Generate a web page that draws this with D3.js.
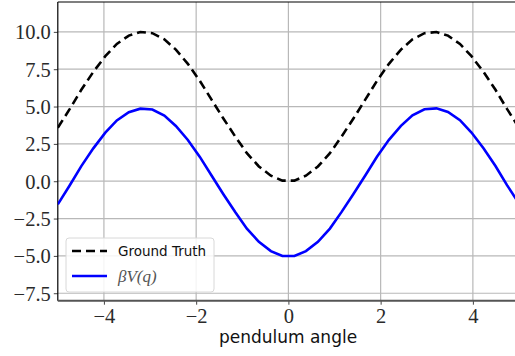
<!DOCTYPE html>
<html>
<head>
<meta charset="utf-8">
<script src="https://cdn.jsdelivr.net/npm/d3@7"></script>
<style>
  body { margin: 0; background: #fff; }
  .tick text { font-family: "Liberation Serif", serif; font-size: 20.5px; fill: #2a2a2a; }
</style>
</head>
<body>
<svg class="pendulum"></svg>
<script>
"use strict";

var width  = 515,
    height = 356;

// angles sampled along the x axis
var angles = [-5.00, -4.74, -4.49, -4.23, -3.97, -3.72, -3.46, -3.21, -2.95, -2.69,
              -2.44, -2.18, -1.92, -1.67, -1.41, -1.15, -0.90, -0.64, -0.38, -0.13,
               0.13,  0.38,  0.64,  0.90,  1.15,  1.41,  1.67,  1.92,  2.18,  2.44,
               2.69,  2.95,  3.21,  3.46,  3.72,  3.97,  4.23,  4.49,  4.74,  5.00];

var ground_truth = [3.58, 4.84, 6.12, 7.32, 8.37, 9.19, 9.75, 9.99, 9.91, 9.50,
                    8.81, 7.86, 6.72, 5.48, 4.20, 2.98, 1.88, 0.99, 0.37, 0.04,
                    0.04, 0.37, 0.99, 1.88, 2.98, 4.20, 5.48, 6.72, 7.86, 8.81,
                    9.50, 9.91, 9.99, 9.75, 9.19, 8.37, 7.32, 6.12, 4.84, 3.58];

var learned = [-1.55, -0.27, 1.01, 2.20, 3.25, 4.07, 4.62, 4.86, 4.80, 4.40,
                3.70, 2.76, 1.63, 0.40, -0.87, -2.08, -3.18, -4.06, -4.68, -5.01,
               -5.01, -4.68, -4.06, -3.17, -2.07, -0.86, 0.40, 1.64, 2.77, 3.71,
                4.41, 4.82, 4.88, 4.64, 4.09, 3.26, 2.21, 1.02, -0.26, -1.50];

var x_ticks = [-4, -2, 0, 2, 4],
    y_ticks = [-7.5, -5.0, -2.5, 0.0, 2.5, 5.0, 7.5, 10.0];

var series_names = ["Ground Truth", "βV(q)"];


// Setup
var chart = d3.select(".pendulum")
              .attr("width", width)
              .attr("height", height);

var x = d3.scaleLinear()
          .domain([-5, 5])
          .range([57.8, 519]);

var y = d3.scaleLinear()
          .domain([-8, 12])
          .range([300.7, 2]);

function fmt(v) {
    return d3.format(".1f")(v).replace("-", "\u2212");
}

// grid
chart.append("g")
     .selectAll("line")
     .data(x_ticks)
     .enter().append("line")
        .attr("x1", x).attr("x2", x)
        .attr("y1", y(12)).attr("y2", y(-8))
        .style("stroke", "#b8b8b8")
        .style("stroke-width", 1.2);

chart.append("g")
     .selectAll("line")
     .data(y_ticks)
     .enter().append("line")
        .attr("y1", y).attr("y2", y)
        .attr("x1", x(-5)).attr("x2", width)
        .style("stroke", "#b8b8b8")
        .style("stroke-width", 1.2);

// axes
var x_axis = chart.append("g")
                  .attr("transform", "translate(0, " + y(-8) + ")")
                  .call(d3.axisBottom(x)
                          .tickValues(x_ticks)
                          .tickSize(4)
                          .tickPadding(4)
                          .tickFormat(function(d) { return String(d).replace("-", "\u2212"); }));

var y_axis = chart.append("g")
                  .attr("transform", "translate(" + x(-5) + ", 0)")
                  .call(d3.axisLeft(y)
                          .tickValues(y_ticks)
                          .tickSize(4)
                          .tickPadding(3)
                          .tickFormat(fmt));

x_axis.select(".domain").remove();
y_axis.select(".domain").remove();
x_axis.selectAll(".tick line").style("stroke", "#444");
y_axis.selectAll(".tick line").style("stroke", "#444");
y_axis.selectAll(".tick text").attr("dy", "0.34em");

// spines
chart.append("line")
     .attr("x1", x(-5)).attr("x2", x(-5))
     .attr("y1", y(12)).attr("y2", y(-8))
     .style("stroke", "#000").style("stroke-width", 1.2);
chart.append("line")
     .attr("x1", x(-5)).attr("x2", width)
     .attr("y1", y(12)).attr("y2", y(12))
     .style("stroke", "#000").style("stroke-width", 1.2);
chart.append("line")
     .attr("x1", x(-5)).attr("x2", width)
     .attr("y1", y(-8)).attr("y2", y(-8))
     .style("stroke", "#555").style("stroke-width", 2);

// curves
var plot = chart.append("g");
plot.append("clipPath")
    .attr("id", "clip")
    .append("rect")
        .attr("x", x(-5)).attr("y", y(12))
        .attr("width", x(5) - x(-5))
        .attr("height", y(-8) - y(12));

function addCurve(values, color, dash) {
    var line = d3.line()
                 .x(function(d, i) { return x(angles[i]); })
                 .y(function(d) { return y(d); });
    plot.append("path")
        .datum(values)
        .attr("clip-path", "url(#clip)")
        .attr("d", line)
        .style("fill", "none")
        .style("stroke", color)
        .style("stroke-width", 2.6)
        .style("stroke-dasharray", dash);
}

addCurve(ground_truth, "#000", "9,5");
addCurve(learned, "#0000ff", null);

// x label
chart.append("text")
     .attr("x", 288)
     .attr("y", 343)
     .attr("text-anchor", "middle")
     .style("font-family", "DejaVu Sans, sans-serif")
     .style("font-size", "17px")
     .style("fill", "#111")
     .text("pendulum angle");

// legend
var legend = chart.append("g")
                  .attr("transform", "translate(66, 238)");
legend.append("rect")
      .attr("width", 148)
      .attr("height", 54)
      .attr("rx", 3)
      .style("fill", "#fff")
      .style("fill-opacity", 0.85)
      .style("stroke", "#d8d8d8");

var items = legend.selectAll(".item")
                  .data(series_names)
                  .enter().append("g")
                  .attr("class", "item")
                  .attr("transform", function(d, i) { return "translate(0, " + (13 + i * 25) + ")"; });

items.append("line")
     .attr("x1", 6).attr("x2", 41)
     .style("stroke", function(d, i) { return i == 0 ? "#000" : "#0000ff"; })
     .style("stroke-width", 2.6)
     .style("stroke-dasharray", function(d, i) { return i == 0 ? "9,5" : null; });

items.append("text")
     .attr("x", 52)
     .attr("dy", "0.35em")
     .style("font-family", function(d, i) { return i == 0 ? "DejaVu Sans, sans-serif" : "Liberation Serif, serif"; })
     .style("font-style", function(d, i) { return i == 0 ? "normal" : "italic"; })
     .style("font-size", function(d, i) { return i == 0 ? "13.5px" : "17px"; })
     .style("fill", function(d, i) { return i == 0 ? "#111" : "#555"; })
     .text(function(d) { return d; });
</script>
</body>
</html>
